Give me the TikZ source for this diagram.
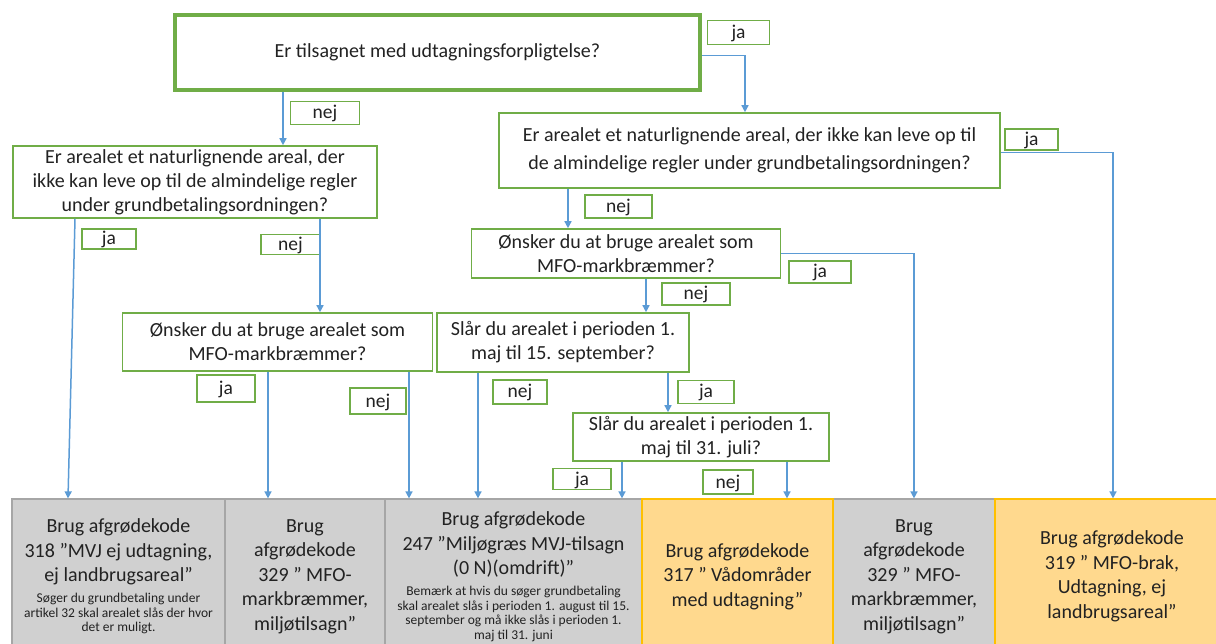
\documentclass[tikz,border=0pt]{standalone}
\usepackage{fontspec}
\setmainfont{Carlito}
\usetikzlibrary{arrows.meta}

\definecolor{boxgreen}{HTML}{70AD47}
\definecolor{flowblue}{HTML}{5B9BD5}
\definecolor{resgray}{HTML}{D0D0D0}
\definecolor{resgrayline}{HTML}{A6A6A6}
\definecolor{resorange}{HTML}{FFD98E}
\definecolor{resorangeline}{HTML}{FFC000}
\definecolor{txt}{HTML}{222222}

\begin{document}
\begin{tikzpicture}[x=1pt,y=-1pt]

	% styles
	\tikzstyle{question}=[draw=boxgreen,line width=1.6pt,fill=white,align=center,inner sep=0pt,text=txt,font=\fontsize{20}{24}\selectfont];
	\tikzstyle{answer}=[draw=boxgreen,line width=1.4pt,fill=white,inner sep=0pt,text=txt,text height=14pt,text depth=2pt,font=\fontsize{19.5}{22}\selectfont];
	\tikzstyle{result}=[draw=resgrayline,line width=1.2pt,fill=resgray,align=center,inner sep=0pt,text=txt,minimum height=155pt,font=\fontsize{20}{24.5}\selectfont];
	\tikzstyle{resultorange}=[result,draw=resorangeline,fill=resorange];
	\tikzstyle{flow}=[draw=flowblue,line width=1.5pt,-{Triangle[length=7pt,width=7pt]}];
	\newcommand{\notetext}{\fontsize{13.5}{14}\selectfont}

	% page frame
	\clip (0,0) rectangle (1216,644);

	% columns of the connectors
	\coordinate (xa) at (283,0);
	\coordinate (xb) at (745,0);
	\coordinate (xc) at (75,0);
	\coordinate (xd) at (68,0);
	\coordinate (xe) at (320,0);
	\coordinate (xf) at (268,0);
	\coordinate (xg) at (409,0);
	\coordinate (xh) at (1113,0);
	\coordinate (xi) at (568,0);
	\coordinate (xj) at (914,0);
	\coordinate (xk) at (646,0);
	\coordinate (xl) at (478,0);
	\coordinate (xm) at (668,0);
	\coordinate (xn) at (622,0);
	\coordinate (xo) at (787,0);

	% questions
	\node[question,line width=3.5pt,minimum width=525pt,minimum height=75pt] (q0) at (437.5,52.5) {Er tilsagnet med udtagningsforpligtelse?};
	\node[question,minimum width=364pt,minimum height=72pt] (q1) at (195,182) {Er arealet et naturlignende areal, der\\ikke kan leve op til de almindelige regler\\under grundbetalingsordningen?};
	\node[question,minimum width=310pt,minimum height=58pt] (q3) at (277.5,342) {Ønsker du at bruge arealet som\\MFO-markbræmmer?};
	\node[question,minimum width=501pt,minimum height=75pt] (q2) at (749.5,150.5) {Er arealet et naturlignende areal, der ikke kan leve op til\\[4.5pt]de almindelige regler under grundbetalingsordningen?};
	\node[question,minimum width=309pt,minimum height=49pt] (q4) at (626,253.5) {Ønsker du at bruge arealet som\\MFO-markbræmmer?};
	\node[question,minimum width=252pt,minimum height=59pt] (q5) at (563,342.5) {Slår du arealet i perioden 1.\\maj til 15. september?};
	\node[question,minimum width=256pt,minimum height=48pt] (q6) at (701,437) {Slår du arealet i perioden 1.\\maj til 31. juli?};

	% answers
	\node[answer,minimum width=62pt,minimum height=24pt] (a0) at (738.5,32.5) {ja};
	\node[answer,minimum width=69pt,minimum height=23pt] (a1) at (325,113) {nej};
	\node[answer,minimum width=54pt,minimum height=20pt] (a2) at (109,239) {ja};
	\node[answer,minimum width=59pt,minimum height=20pt] (a3) at (290.5,244.5) {nej};
	\node[answer,minimum width=58pt,minimum height=27pt] (a4) at (226,388.5) {ja};
	\node[answer,minimum width=56pt,minimum height=26pt] (a5) at (378,401) {nej};
	\node[answer,minimum width=53pt,minimum height=21pt] (a6) at (1031.5,139.5) {ja};
	\node[answer,minimum width=67pt,minimum height=23pt] (a7) at (618.5,206.5) {nej};
	\node[answer,minimum width=62pt,minimum height=22pt] (a8) at (820,272) {ja};
	\node[answer,minimum width=68pt,minimum height=22pt] (a9) at (696,294) {nej};
	\node[answer,minimum width=54pt,minimum height=24pt] (a10) at (520,392) {nej};
	\node[answer,minimum width=56pt,minimum height=23pt] (a11) at (706,392) {ja};
	\node[answer,minimum width=58pt,minimum height=21pt] (a12) at (582,479) {ja};
	\node[answer,minimum width=50pt,minimum height=24pt] (a13) at (728,482) {nej};

	% results
	\node[result,minimum width=213pt] (b1) at (118.5,576.5) {Brug afgrødekode\\318 ”MVJ ej udtagning,\\ej landbrugsareal”\\[-3.5pt]\notetext Søger du grundbetaling under\\[-10pt]\notetext artikel 32 skal arealet slås der hvor\\[-10pt]\notetext det er muligt.};
	\node[result,minimum width=160pt] (b2) at (305,576.5) {Brug\\afgrødekode\\329 ” MFO-\\markbræmmer,\\miljøtilsagn”};
	\node[result,minimum width=257pt] (b3) at (513.5,576.5) {Brug afgrødekode\\247 ”Miljøgræs MVJ-tilsagn\\(0 N)(omdrift)”\\[-3.5pt]\notetext Bemærk at hvis du søger grundbetaling\\[-10pt]\notetext skal arealet slås i perioden 1. august til 15.\\[-10pt]\notetext september og må ikke slås i perioden 1.\\[-10pt]\notetext maj til 31. juni};
	\node[result,minimum width=162pt] (b5) at (914,576.5) {Brug\\afgrødekode\\329 ” MFO-\\markbræmmer,\\miljøtilsagn”};
	\node[resultorange,minimum width=191pt] (b4) at (737.5,576.5) {Brug afgrødekode\\317 ” Vådområder\\med udtagning”};
	\node[resultorange,minimum width=234pt] (b6) at (1112,576.5) {Brug afgrødekode\\319 ” MFO-brak,\\Udtagning, ej\\landbrugsareal”};

	% connectors
	\draw[flow] (q0.south -| xa) -- (q1.north -| xa);
	\draw[flow] ([yshift=-3pt]q0.east) -| (q2.north -| xb);
	\draw[flow] (q1.south -| xc) -- (b1.north -| xd);
	\draw[flow] (q1.south -| xe) -- (q3.north -| xe);
	\draw[flow] (q3.south -| xf) -- (b2.north -| xf);
	\draw[flow] (q3.south -| xg) -- (b3.north -| xg);
	\draw[flow] ([yshift=-2pt]q2.east) -| (b6.north -| xh);
	\draw[flow] (q2.south -| xi) -- (q4.north -| xi);
	\draw[flow] (q4.east) -| (b5.north -| xj);
	\draw[flow] (q4.south -| xk) -- (q5.north -| xk);
	\draw[flow] (q5.south -| xl) -- (b3.north -| xl);
	\draw[flow] (q5.south -| xm) -- (q6.north -| xm);
	\draw[flow] (q6.south -| xn) -- (b3.north -| xn);
	\draw[flow] (q6.south -| xo) -- (b4.north -| xo);

\end{tikzpicture}
\end{document}
